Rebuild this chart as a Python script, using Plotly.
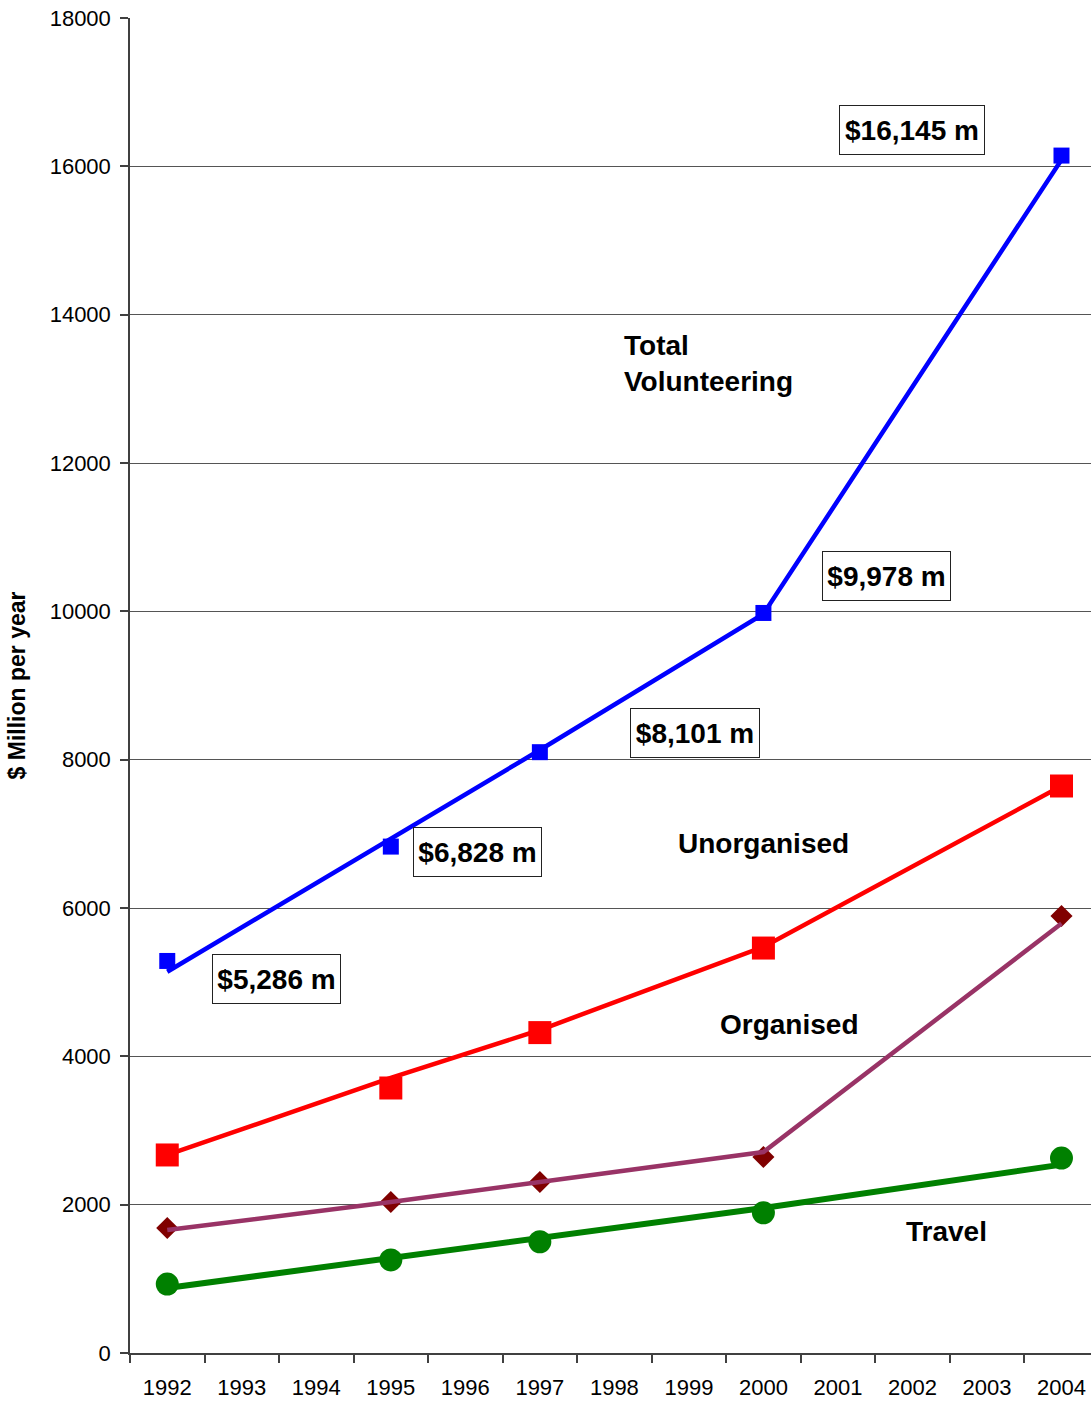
import plotly.graph_objects as go

years = [1992, 1995, 1997, 2000, 2004]
tick_years = list(range(1992, 2005))
y_ticks = list(range(0, 18001, 2000))

total_points = [5286, 6828, 8101, 9978, 16145]
total_line = [5140, 6935, 8130, 9965, 16090]
unorg_points = [2670, 3573, 4320, 5460, 7645]
unorg_line = [2670, 3708, 4355, 5475, 7645]
org_points = [1685, 2036, 2306, 2643, 5892]
org_line = [1658, 2036, 2306, 2710, 5790]
travel_points = [930, 1254, 1500, 1890, 2629]
travel_line = [876, 1275, 1545, 1955, 2540]

value_labels = ["$5,286 m", "$6,828 m", "$8,101 m", "$9,978 m", "$16,145 m"]
label_pos_x = [1993.47, 1996.16, 1999.08, 2001.65, 2001.99]
label_pos_y = [5049, 6755, 8366, 10483, 16489]
label_box_w = [121, 121, 122, 121, 138]

FONT = "Liberation Sans, Arial, sans-serif"

fig = go.Figure()

# markers first
fig.add_trace(go.Scatter(x=years, y=travel_points, mode="markers",
                         marker=dict(symbol="circle", size=23, color="#008000"), showlegend=False))
fig.add_trace(go.Scatter(x=years, y=org_points, mode="markers",
                         marker=dict(symbol="diamond", size=17, color="#800000"), showlegend=False))
fig.add_trace(go.Scatter(x=years, y=unorg_points, mode="markers",
                         marker=dict(symbol="square", size=23, color="#FF0000"), showlegend=False))
fig.add_trace(go.Scatter(x=years, y=total_points, mode="markers",
                         marker=dict(symbol="square", size=16, color="#0000FF"), showlegend=False))
# lines
fig.add_trace(go.Scatter(x=years, y=travel_line, mode="lines",
                         line=dict(color="#008000", width=6), showlegend=False))
fig.add_trace(go.Scatter(x=years, y=org_line, mode="lines",
                         line=dict(color="#993366", width=4.5), showlegend=False))
fig.add_trace(go.Scatter(x=years, y=unorg_line, mode="lines",
                         line=dict(color="#FF0000", width=4.5), showlegend=False))
fig.add_trace(go.Scatter(x=years, y=total_line, mode="lines",
                         line=dict(color="#0000FF", width=4.5), showlegend=False))

annotations = []
for txt, ax, ay, bw in zip(value_labels, label_pos_x, label_pos_y, label_box_w):
    annotations.append(dict(x=ax, y=ay, xref="x", yref="y", text="<b>" + txt + "</b>",
                            showarrow=False, font=dict(family=FONT, size=28, color="black"),
                            bgcolor="white", bordercolor="#222222", borderwidth=1, borderpad=3,
                            width=bw, height=42, align="center",
                            xanchor="center", yanchor="middle"))

series_labels = [
    ("<b>Total<br>Volunteering</b>", 1998.10, 13348, "left"),
    ("<b>Unorganised</b>", 2000.0, 6876, "center"),
    ("<b>Organised</b>", 2000.34, 4436, "center"),
    ("<b>Travel</b>", 2002.46, 1645, "center"),
]
for txt, ax, ay, anc in series_labels:
    annotations.append(dict(x=ax, y=ay, xref="x", yref="y", text=txt, showarrow=False,
                            font=dict(family=FONT, size=28, color="black"),
                            xanchor=anc, yanchor="middle", align="left"))

fig.update_layout(
    width=1091, height=1402,
    margin=dict(l=130, r=0, t=18, b=49),
    plot_bgcolor="white", paper_bgcolor="white",
    font=dict(family=FONT, size=22, color="black"),
    annotations=annotations,
    hovermode=False,
)

fig.update_xaxes(
    range=[1991.5, 2004.396],
    tickmode="array", tickvals=tick_years, ticktext=[str(y) for y in tick_years],
    ticks="outside", ticklen=0, ticklabelstandoff=14,
    tickfont=dict(family=FONT, size=22, color="black"),
    showgrid=False, zeroline=False,
    showline=True, linecolor="#404040", linewidth=1.5,
    minor=dict(ticks="outside", tick0=1991.5, dtick=1, ticklen=8, tickcolor="#404040",
               tickwidth=1.5, showgrid=False),
)
fig.update_yaxes(
    range=[0, 18000], tickmode="array", tickvals=y_ticks, ticktext=[str(v) for v in y_ticks],
    ticks="outside", ticklen=8, tickcolor="#404040", tickwidth=1.5, ticklabelstandoff=5,
    tickfont=dict(family=FONT, size=22, color="black"),
    showgrid=True, gridcolor="#555555", gridwidth=1,
    zeroline=False, showline=True, linecolor="#404040", linewidth=1.5,
    title=dict(text="<b>$ Million per year</b>", font=dict(family=FONT, size=23, color="black"),
               standoff=18),
)

fig.write_html("out.html", config={"displayModeBar": False},
               post_script="document.body.style.margin='0';document.body.style.overflow='hidden';")
